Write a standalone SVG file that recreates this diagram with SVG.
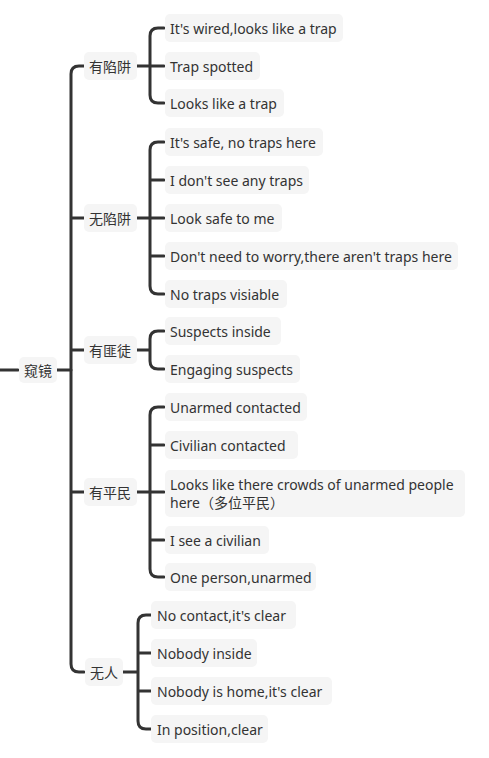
<svg xmlns="http://www.w3.org/2000/svg" width="489" height="758" viewBox="0 0 489 758">
<style>
.b{fill:#f5f5f5}
.t{font-family:"Noto Sans","Noto Sans CJK SC",sans-serif;font-size:14px;fill:#333;dominant-baseline:central}
.c{fill:none;stroke:#333;stroke-width:3;stroke-linecap:round;stroke-linejoin:round}
</style>
<rect width="489" height="758" fill="#fff"/>
<g id="connectors">
<path class="c" d="M0,370 H18 M57,370 H71"/>
<path class="c" d="M84,66 H79 Q71,66 71,74 V664 Q71,672 79,672 H84 M71,218 H84 M71,350 H84 M71,492 H84"/>
<path class="c" d="M137,66 H164 M164,28 H158 Q150,28 150,36 V95 Q150,103 158,103 H164"/>
<path class="c" d="M137,218 H164 M164,142 H158 Q150,142 150,150 V286 Q150,294 158,294 H164 M150,180 H164 M150,256 H164"/>
<path class="c" d="M137,350 H150 M164,331 H158 Q150,331 150,339 V361 Q150,369 158,369 H164"/>
<path class="c" d="M137,492 H164 M164,407 H158 Q150,407 150,415 V569 Q150,577 158,577 H164 M150,445 H164 M150,540 H164"/>
<path class="c" d="M123,672 H138 M151,615 H146 Q138,615 138,623 V721 Q138,729 146,729 H151 M138,653 H151 M138,691 H151"/>
</g>
<g id="root"><rect class="b" x="19" y="357" width="38" height="26" rx="5"/><text class="t" x="24" y="370">窥镜</text></g>
<g id="n1"><rect class="b" x="84" y="52" width="53" height="28" rx="5"/><text class="t" x="89" y="66">有陷阱</text></g>
<g id="n2"><rect class="b" x="84" y="204" width="53" height="28" rx="5"/><text class="t" x="89" y="218">无陷阱</text></g>
<g id="n3"><rect class="b" x="84" y="336" width="53" height="28" rx="5"/><text class="t" x="89" y="350">有匪徒</text></g>
<g id="n4"><rect class="b" x="84" y="478" width="53" height="28" rx="5"/><text class="t" x="89" y="492">有平民</text></g>
<g id="n5"><rect class="b" x="85" y="658" width="38" height="28" rx="5"/><text class="t" x="90" y="672">无人</text></g>
<g id="n1a"><rect class="b" x="165" y="14" width="178" height="28" rx="5"/><text class="t" x="170" y="28">It's wired,looks like a trap</text></g>
<g id="n1b"><rect class="b" x="165" y="52" width="95" height="28" rx="5"/><text class="t" x="170" y="66">Trap spotted</text></g>
<g id="n1c"><rect class="b" x="165" y="89" width="119" height="28" rx="5"/><text class="t" x="170" y="103">Looks like a trap</text></g>
<g id="n2a"><rect class="b" x="165" y="128" width="158" height="28" rx="5"/><text class="t" x="170" y="142">It's safe, no traps here</text></g>
<g id="n2b"><rect class="b" x="165" y="166" width="144" height="28" rx="5"/><text class="t" x="170" y="180">I don't see any traps</text></g>
<g id="n2c"><rect class="b" x="165" y="204" width="117" height="28" rx="5"/><text class="t" x="170" y="218">Look safe to me</text></g>
<g id="n2d"><rect class="b" x="165" y="242" width="293" height="28" rx="5"/><text class="t" x="170" y="256">Don't need to worry,there aren't traps here</text></g>
<g id="n2e"><rect class="b" x="165" y="280" width="122" height="28" rx="5"/><text class="t" x="170" y="294">No traps visiable</text></g>
<g id="n3a"><rect class="b" x="165" y="317" width="116" height="28" rx="5"/><text class="t" x="170" y="331">Suspects inside</text></g>
<g id="n3b"><rect class="b" x="165" y="355" width="135" height="28" rx="5"/><text class="t" x="170" y="369">Engaging suspects</text></g>
<g id="n4a"><rect class="b" x="165" y="393" width="142" height="28" rx="5"/><text class="t" x="170" y="407">Unarmed contacted</text></g>
<g id="n4b"><rect class="b" x="165" y="431" width="133" height="28" rx="5"/><text class="t" x="170" y="445">Civilian contacted</text></g>
<g id="n4c"><rect class="b" x="165" y="470" width="300" height="47" rx="5"/><text class="t" x="170" y="484">Looks like there crowds of unarmed people</text><text class="t" x="170" y="502">here（多位平民）</text></g>
<g id="n4d"><rect class="b" x="165" y="526" width="104" height="28" rx="5"/><text class="t" x="170" y="540">I see a civilian</text></g>
<g id="n4e"><rect class="b" x="165" y="563" width="151" height="28" rx="5"/><text class="t" x="170" y="577">One person,unarmed</text></g>
<g id="n5a"><rect class="b" x="151" y="601" width="145" height="28" rx="5"/><text class="t" x="157" y="615">No contact,it's clear</text></g>
<g id="n5b"><rect class="b" x="151" y="639" width="106" height="28" rx="5"/><text class="t" x="157" y="653">Nobody inside</text></g>
<g id="n5c"><rect class="b" x="151" y="677" width="181" height="28" rx="5"/><text class="t" x="157" y="691">Nobody is home,it's clear</text></g>
<g id="n5d"><rect class="b" x="151" y="715" width="117" height="28" rx="5"/><text class="t" x="157" y="729">In position,clear</text></g>
</svg>
